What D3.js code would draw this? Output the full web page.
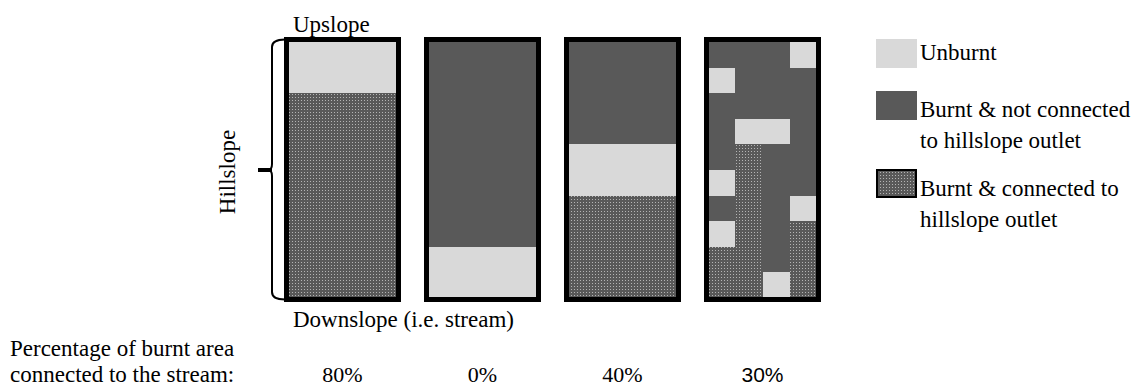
<!DOCTYPE html>
<html>
<head>
<meta charset="utf-8">
<script src="https://cdn.jsdelivr.net/npm/d3@7"></script>
<style>
  html, body { margin: 0; padding: 0; background: #fff; }
  svg { display: block; }
  text { font-family: "Liberation Serif", "Times New Roman", serif; fill: #000; }
</style>
</head>
<body>
<svg id="chart" width="1144" height="390"></svg>
<script>
// ---- data ----
const categories = ["U", "B", "C"]; // Unburnt, Burnt not connected, Burnt connected
const legendLabels = [
  ["Unburnt"],
  ["Burnt & not connected", "to hillslope outlet"],
  ["Burnt & connected to", "hillslope outlet"]
];
const percentLabels = ["80%", "0%", "40%", "30%"];
// each panel: rows from upslope (top) to downslope (bottom); one char per column
const panel1 = ["U", "U", "C", "C", "C", "C", "C", "C", "C", "C"];
const panel2 = ["B", "B", "B", "B", "B", "B", "B", "B", "U", "U"];
const panel3 = ["B", "B", "B", "B", "U", "U", "C", "C", "C", "C"];
const panel4 = [
  "BBBU",
  "UBBB",
  "BBBB",
  "BUUB",
  "BCBB",
  "UCBB",
  "BCBU",
  "UCBC",
  "CCBC",
  "CCUC"
];
const panels = [panel1, panel2, panel3, panel4];

// ---- drawing ----
const svg = d3.select("#chart");
const defs = svg.append("defs");
const pat = defs.append("pattern")
  .attr("id", "stipple").attr("patternUnits", "userSpaceOnUse")
  .attr("width", 3).attr("height", 3);
pat.append("rect").attr("width", 3).attr("height", 3).attr("fill", "#595959");
pat.append("rect").attr("x", 1).attr("y", 1).attr("width", 1).attr("height", 1).attr("fill", "#b4b4b4");

const color = d3.scaleOrdinal().domain(categories)
  .range(["#d9d9d9", "#595959", "url(#stipple)"]);

const panelX = d3.scaleBand().domain(d3.range(panels.length))
  .range([284, 821]).paddingInner(23 / 140).paddingOuter(0);
const rowY = d3.scaleBand().domain(d3.range(10)).range([42, 298]);
const panelTop = 37, panelBottom = 302, border = 5;

panels.forEach((grid, i) => {
  const x0 = panelX(i), w = panelX.bandwidth();
  const ncol = grid[0].length;
  const colX = d3.scaleBand().domain(d3.range(ncol)).range([x0 + 4, x0 + w - 4]);
  const g = svg.append("g");
  const cells = [];
  grid.forEach((row, r) => row.split("").forEach((c, ci) => cells.push({ r, c: ci, v: c })));
  g.selectAll("rect.cell").data(cells).join("rect")
    .attr("class", "cell")
    .attr("shape-rendering", "crispEdges")
    .attr("x", d => Math.round(colX(d.c)))
    .attr("y", d => Math.round(rowY(d.r)))
    .attr("width", d => Math.round(colX(d.c) + colX.bandwidth()) - Math.round(colX(d.c)))
    .attr("height", d => Math.round(rowY(d.r) + rowY.bandwidth()) - Math.round(rowY(d.r)))
    .attr("fill", d => color(d.v));
  g.append("rect")
    .attr("x", x0 + border / 2).attr("y", panelTop + border / 2)
    .attr("width", w - border).attr("height", panelBottom - panelTop - border)
    .attr("fill", "none").attr("stroke", "#000").attr("stroke-width", border);
  svg.append("text")
    .attr("x", x0 + w / 2).attr("y", 382)
    .attr("text-anchor", "middle")
    .style("font-size", i === 3 ? "21px" : "22px")
    .style("font-family", i === 3 ? "'Liberation Sans', Arial, sans-serif" : null)
    .text(percentLabels[i]);
});

// labels
svg.append("text").attr("x", 293).attr("y", 32).style("font-size", "23px").text("Upslope");
svg.append("text").attr("x", 293).attr("y", 327).style("font-size", "23px").text("Downslope (i.e. stream)");
svg.append("text").attr("transform", "translate(235,172) rotate(-90)")
  .attr("text-anchor", "middle").style("font-size", "23px").text("Hillslope");
svg.append("text").attr("x", 10).attr("y", 356).style("font-size", "23px").text("Percentage of burnt area");
svg.append("text").attr("x", 10).attr("y", 382).style("font-size", "23px").text("connected to the stream:");

// brace
const braceX = 272;
svg.append("path")
  .attr("d", `M285,39.5 Q${braceX},39.5 ${braceX},47 L${braceX},164 Q${braceX},170 ${braceX - 4},170 Q${braceX},170 ${braceX},176 L${braceX},292 Q${braceX},299.5 285,299.5`)
  .attr("fill", "none").attr("stroke", "#000").attr("stroke-width", 2);
svg.append("line").attr("x1", 258).attr("x2", braceX).attr("y1", 170).attr("y2", 170)
  .attr("stroke", "#000").attr("stroke-width", 4);

// legend
const legendY = d3.scaleOrdinal().domain(categories).range([39, 91, 169]);
const legendBase = d3.scaleOrdinal().domain(categories).range([60, 117, 196]);
const lg = svg.append("g");
categories.forEach((c, i) => {
  lg.append("rect")
    .attr("x", c === "C" ? 877 : 876).attr("y", legendY(c) + (c === "C" ? 1 : 0))
    .attr("width", c === "C" ? 39 : 41).attr("height", c === "C" ? 27 : 29)
    .attr("fill", color(c))
    .attr("stroke", c === "C" ? "#000" : "none").attr("stroke-width", 2);
  legendLabels[i].forEach((t, j) => {
    lg.append("text").attr("x", 920).attr("y", legendBase(c) + j * 31)
      .style("font-size", "23px").text(t);
  });
});
</script>
</body>
</html>
